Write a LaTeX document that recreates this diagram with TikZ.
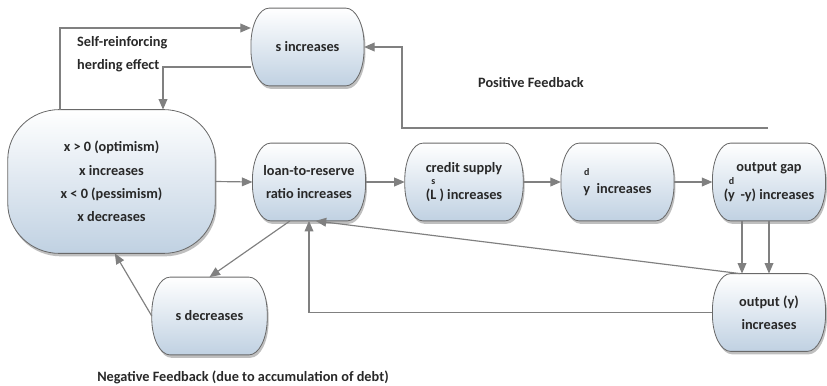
\documentclass[tikz,border=0pt]{standalone}
\usepackage{fontspec}
\setmainfont{Carlito}
\usetikzlibrary{arrows.meta,calc,positioning,shadows,backgrounds}
\definecolor{boxblue}{RGB}{192,209,226}
\definecolor{edgegray}{RGB}{105,105,105}
\definecolor{linkgray}{RGB}{128,128,128}
\definecolor{inkgray}{RGB}{40,40,40}
% small letter set above a character (as the picture prints it)
\newcommand{\markabove}[3]{\setbox0\hbox{#1}\hbox to\wd0{\hss\raisebox{#3}{\fontsize{8.5}{8.5}\selectfont #2}\hss}\llap{\box0}}
% shaded box with oval ends round a node: name, x radius, y radius
\newcommand{\ovalbox}[3]{%
  \path[boxface] ($(#1.north west)+(#2,0)$) -- ($(#1.north east)+(-#2,0)$)
    arc[start angle=90,end angle=0,x radius=#2,y radius=#3] -- ($(#1.south east)+(0,#3)$)
    arc[start angle=0,end angle=-90,x radius=#2,y radius=#3] -- ($(#1.south west)+(#2,0)$)
    arc[start angle=270,end angle=180,x radius=#2,y radius=#3] -- ($(#1.north west)+(0,-#3)$)
    arc[start angle=180,end angle=90,x radius=#2,y radius=#3] -- cycle;}

\begin{document}
\begin{tikzpicture}[x=0.03cm,y=-0.03cm,>={Triangle[length=9pt,width=7.5pt]},
  font=\bfseries\fontsize{12.2}{20}\selectfont,text=inkgray,
  stage/.style={minimum width=3.38cm,minimum height=2.32cm,align=center,inner sep=1pt},
  boxface/.style={draw=edgegray,line width=0.7pt,top color=white,bottom color=boxblue,
    drop shadow={shadow xshift=1.2pt,shadow yshift=-2.5pt,opacity=0.5}},
  flow/.style={->,draw=linkgray,line width=1pt},
  note/.style={inner sep=0pt,align=left}]
  \useasboundingbox (0,0) rectangle (827,385);
  % stages of the cycle
  \node[stage,minimum width=6.21cm,minimum height=4.3cm] (belief) at (111.5,181.5)
    {x > 0 (optimism)\\x increases\\x < 0 (pessimism)\\x decreases};
  \node[stage] (sinc) at (307.5,47) {s increases};
  \node[stage] (ratio) at (309,182) {loan-to-reserve\\ratio increases};
  \node[stage,minimum width=3.54cm] (credit) at (464,182) {credit supply\\[3pt](\markabove{L}{s}{13pt}\ ) increases};
  \node[stage] (ydem) at (617.5,182) {\markabove{y}{d}{15pt}\ \ increases};
  \node[stage] (gap) at (769,182) {output gap\\[2pt](\markabove{y}{d}{13pt}\ \,-y) increases};
  \node[stage] (output) at (769,312.5) {output (y)\\increases};
  \node[stage,minimum width=3.45cm] (sdec) at (209.5,316) {s decreases};
  % box outlines behind the texts
  \begin{scope}[on background layer]
    \ovalbox{belief}{1.55cm}{1.5cm}
    \foreach \n in {sinc,ratio,credit,ydem,gap,output,sdec}
      {\ovalbox{\n}{0.55cm}{1.1cm}}
  \end{scope}
  % loop labels
  \node[note,anchor=west] (herd) at (77,54) {Self-reinforcing\\herding effect};
  \node[note] (pos) at (531,83) {Positive Feedback};
  \node[note] (neg) at (243,377) {Negative Feedback (due to accumulation of debt)};
  % herding loop
  \draw[flow] (belief.north -| 60,0) |- (sinc.west |- 0,28);
  \draw[flow] (sinc.west |- 0,67) -| (belief.north -| 163,0);
  % positive feedback (comes in from the right)
  \coordinate (pfend) at (768,128);
  \draw[flow] (pfend) -| (sinc.east -| 402,0) -- (sinc.east);
  % main chain
  \draw[flow] (belief.east) -- (ratio.west);
  \draw[flow] (ratio.east) -- (credit.west);
  \draw[flow] (credit.east) -- (ydem.west);
  \draw[flow] (ydem.east) -- (gap.west);
  \draw[flow] (gap.south -| 742,0) -- (output.north -| 742,0);
  \draw[flow] (gap.south) -- (output.north);
  % negative feedback
  \draw[flow] (output.north -| 740,0) -- ([xshift=0.2cm]ratio.south);
  \draw[flow] (output.west) -| (ratio.south);
  \draw[flow] ([xshift=-0.57cm]ratio.south) -- (sdec.north);
  \draw[flow] (sdec.west) -- ([xshift=0.1cm]belief.south);
\end{tikzpicture}
\end{document}
